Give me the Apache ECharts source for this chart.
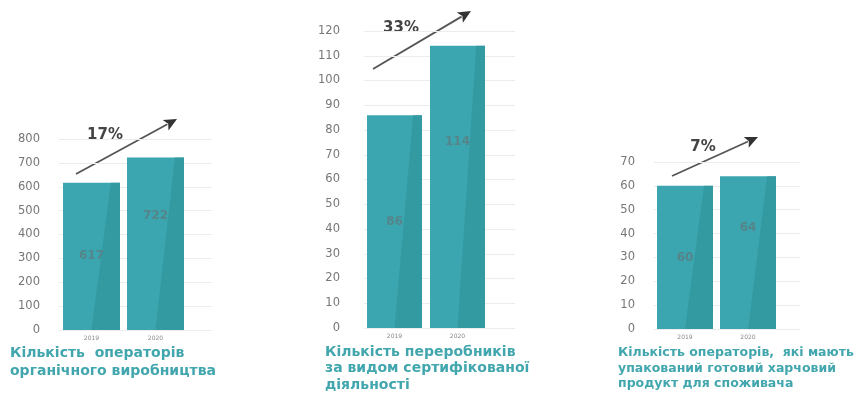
<!DOCTYPE html>
<html>
<head>
<meta charset="utf-8">
<script src="https://cdn.jsdelivr.net/npm/echarts@6/dist/echarts.min.js"></script>
<style>
html,body{margin:0;padding:0;background:#fff;}
#c{width:860px;height:395px;}
</style>
</head>
<body>
<div id="c"></div>
<script>
// ---- data ----
const categories = ['2019', '2020'];
const operators = [617, 722];          // Кількість операторів органічного виробництва
const processors = [86, 114];          // Кількість переробників
const packaged = [60, 64];             // Кількість операторів з упакованим продуктом
const growth = ['17%', '33%', '7%'];
const titles = [
  'Кількість  операторів\nорганічного виробництва',
  'Кількість переробників\nза видом сертифікованої\nдіяльності',
  'Кількість операторів,  які мають\nупакований готовий харчовий\nпродукт для споживача'
];
const yMax = [800, 120, 70];
const yStep = [100, 10, 10];

// ---- style / layout ----
const FONT = 'DejaVu Sans';
const TEAL = '#3ba6af';
const TEAL_DARK = '#32959e';
const grids = [
  {left: 59, top: 139, width: 153, height: 191, pad: 4, barW: 57, gap: 7},
  {left: 364, top: 31, width: 151, height: 297, pad: 3, barW: 55, gap: 8},
  {left: 654, top: 162, width: 146, height: 167, pad: 3, barW: 56, gap: 7}
];
const labelFrac = [0.5, 0.66];
const arrows = [
  {x1: 76, y1: 174, x2: 177, y2: 119, tx: 105, ty: 135},
  {x1: 373, y1: 69, x2: 471, y2: 11, tx: 401, ty: 28},
  {x1: 672, y1: 176, x2: 758, y2: 137, tx: 703, ty: 147}
];
const titlePos = [
  {left: 10, top: 344, size: 14, lh: 18},
  {left: 325, top: 344, size: 14, lh: 16.5},
  {left: 618, top: 345, size: 12.5, lh: 15.5}
];

function makeRender(g) {
  return function (params, api) {
    const idx = params.dataIndex;
    const cat = api.value(0);
    const val = api.value(1);
    const base = api.coord([cat, 0]);
    const topPt = api.coord([cat, val]);
    const bandW = api.size([1, 0])[0];
    const start = base[0] - bandW / 2 - idx * bandW;
    const x = start + g.pad + idx * (g.barW + g.gap);
    const w = g.barW;
    const top = topPt[1], bottom = base[1];
    const h = bottom - top;
    return {
      type: 'group',
      children: [
        {type: 'rect', shape: {x: x, y: top, width: w, height: h}, style: {fill: TEAL}},
        {type: 'polygon', shape: {points: [[x + w * 0.84, top], [x + w, top], [x + w, bottom], [x + w * 0.5, bottom]]},
          style: {fill: TEAL_DARK, opacity: 0.75}},
        {type: 'text', style: {text: String(val), x: x + w / 2, y: bottom - h * labelFrac[idx],
          align: 'center', verticalAlign: 'middle', font: 'bold 12px ' + FONT, fill: '#55858a'}},
        {type: 'text', style: {text: categories[idx], x: x + w / 2, y: bottom + 8,
          align: 'center', verticalAlign: 'middle', font: '6px ' + FONT, fill: '#888'}}
      ]
    };
  };
}

const seriesData = [operators, processors, packaged];

const option = {
  animation: false,
  backgroundColor: '#fff',
  grid: grids.map(g => ({left: g.left, top: g.top, width: g.width, height: g.height})),
  xAxis: grids.map((g, i) => ({
    type: 'category', gridIndex: i, data: categories,
    axisLine: {show: false}, axisTick: {show: false}, axisLabel: {show: false}
  })),
  yAxis: grids.map((g, i) => ({
    type: 'value', gridIndex: i, min: 0, max: yMax[i], interval: yStep[i],
    axisLine: {show: false}, axisTick: {show: false},
    axisLabel: {color: '#777', fontSize: 11.5, fontFamily: FONT, margin: i === 0 ? 19 : (i === 1 ? 24 : 19)},
    splitLine: {lineStyle: {color: '#ececec', width: 1}}
  })),
  title: titles.map((t, i) => ({
    text: t, left: titlePos[i].left, top: titlePos[i].top, padding: 0,
    textStyle: {color: '#41a6ad', fontFamily: FONT, fontWeight: 'bold', fontSize: titlePos[i].size, lineHeight: titlePos[i].lh}
  })),
  series: seriesData.map((vals, i) => ({
    type: 'custom', xAxisIndex: i, yAxisIndex: i,
    renderItem: makeRender(grids[i]),
    encode: {x: 0, y: 1},
    data: categories.map((c, k) => [c, vals[k]])
  })),
  graphic: []
};

arrows.forEach((a, i) => {
  const ang = Math.atan2(a.y2 - a.y1, a.x2 - a.x1);
  const L = 13, Wd = 6;
  const bx = a.x2 - L * Math.cos(ang), by = a.y2 - L * Math.sin(ang);
  const px = -Math.sin(ang) * Wd, py = Math.cos(ang) * Wd;
  option.graphic.push({
    type: 'line', shape: {x1: a.x1, y1: a.y1, x2: bx + 2 * Math.cos(ang), y2: by + 2 * Math.sin(ang)},
    style: {stroke: '#555', lineWidth: 1.8}
  });
  option.graphic.push({
    type: 'polygon', shape: {points: [[a.x2, a.y2], [bx + px, by + py], [bx + 3 * Math.cos(ang), by + 3 * Math.sin(ang)], [bx - px, by - py]]},
    style: {fill: '#333'}
  });
  option.graphic.push({
    type: 'text', style: {text: growth[i], x: a.tx, y: a.ty, align: 'center', verticalAlign: 'middle',
      font: 'bold 15px ' + FONT, fill: '#444'}
  });
});

const chart = echarts.init(document.getElementById('c'), null, {renderer: 'canvas'});
chart.setOption(option);
</script>
</body>
</html>
